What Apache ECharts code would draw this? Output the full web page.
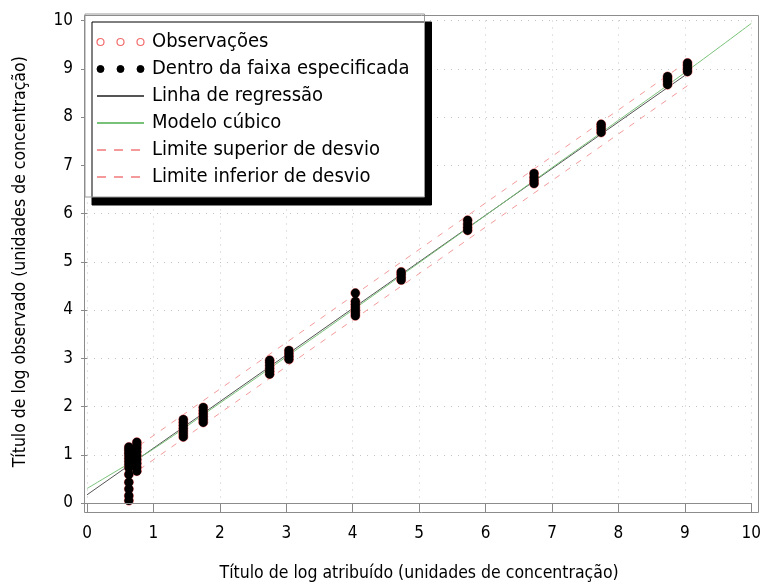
<!DOCTYPE html>
<html>
<head>
<meta charset="utf-8">
<script src="https://cdn.jsdelivr.net/npm/echarts@6/dist/echarts.min.js"></script>
<style>
  html, body { margin: 0; padding: 0; background: #fff; }
  #chart { width: 764px; height: 587px; }
</style>
</head>
<body>
<div id="chart"></div>
<script>
// Assigned log titer of each sample level
const assignedLevels = [0.63, 0.75, 1.45, 1.75, 2.75, 3.04, 4.04, 4.73, 5.73, 6.73, 7.74, 8.74, 9.04];

// Observed log titers at each assigned level (same order as assignedLevels)
const obsLevel01 = [0.05, 0.15, 0.29, 0.43, 0.59, 0.73, 0.80, 0.86, 0.92, 0.98, 1.03, 1.08, 1.12, 1.16];
const obsLevel02 = [0.66, 0.74, 0.82, 0.90, 0.98, 1.06, 1.14, 1.20, 1.26];
const obsLevel03 = [1.37, 1.43, 1.49, 1.55, 1.61, 1.67, 1.73];
const obsLevel04 = [1.67, 1.73, 1.79, 1.85, 1.91, 1.98];
const obsLevel05 = [2.67, 2.73, 2.79, 2.85, 2.91, 2.96];
const obsLevel06 = [2.98, 3.04, 3.10, 3.16];
const obsLevel07 = [3.88, 3.94, 4.00, 4.06, 4.12, 4.18, 4.35];
const obsLevel08 = [4.62, 4.68, 4.74, 4.79];
const obsLevel09 = [5.65, 5.71, 5.78, 5.86];
const obsLevel10 = [6.62, 6.68, 6.75, 6.83];
const obsLevel11 = [7.68, 7.74, 7.80, 7.85];
const obsLevel12 = [8.67, 8.73, 8.79, 8.84];
const obsLevel13 = [8.94, 9.00, 9.06, 9.12];
const observedByLevel = [obsLevel01, obsLevel02, obsLevel03, obsLevel04, obsLevel05, obsLevel06,
  obsLevel07, obsLevel08, obsLevel09, obsLevel10, obsLevel11, obsLevel12, obsLevel13];

// Regression line (end points)
const regressionX = [0, 9.04];
const regressionY = [0.17, 8.90];

// Cubic model curve
const cubicX = [0, 0.5, 1, 2, 3, 4, 5, 6, 7, 8, 9, 10];
const cubicY = [0.30, 0.71, 1.12, 2.07, 3.03, 4.00, 4.98, 5.96, 6.95, 7.93, 8.92, 9.94];

// Deviation limits
const limitX = [0.63, 9.04];
const upperLimitY = [1.04, 9.15];
const lowerLimitY = [0.54, 8.65];

// Axis ticks
const axisTicks = [0, 1, 2, 3, 4, 5, 6, 7, 8, 9, 10];

const FONT = '"DejaVu Sans Condensed", "Liberation Sans", sans-serif';

const zip = (xs, ys) => xs.map((x, i) => [x, ys[i]]);
const observations = [];
assignedLevels.forEach((x, i) => observedByLevel[i].forEach(y => observations.push([x, y])));

const names = {
  obs: 'Observações',
  inside: 'Dentro da faixa especificada',
  reg: 'Linha de regressão',
  cubic: 'Modelo cúbico',
  upper: 'Limite superior de desvio',
  lower: 'Limite inferior de desvio'
};

const RED = '#f26c6c';
const PINK = '#f49a9a';
const GREEN = '#79c279';
const GRAY = '#555555';

const threeCircles = 'path://M0,3.5a3.5,3.5 0 1,0 7,0a3.5,3.5 0 1,0 -7,0' +
  'M20,3.5a3.5,3.5 0 1,0 7,0a3.5,3.5 0 1,0 -7,0' +
  'M40,3.5a3.5,3.5 0 1,0 7,0a3.5,3.5 0 1,0 -7,0';

// line-only legend icons: hide the marker drawn in the middle of the line
const noMarker = { opacity: 0 };

const chart = echarts.init(document.getElementById('chart'), null, { renderer: 'canvas' });

const gridLine = { show: true, lineStyle: { color: '#c4c4c4', type: [1, 6], width: 1 } };

chart.setOption({
  animation: false,
  backgroundColor: '#fff',
  grid: { left: 87, right: 9, top: 20.5, bottom: 78, containLabel: false },
  xAxis: {
    type: 'value', min: axisTicks[0], max: axisTicks[axisTicks.length - 1], interval: 1,
    offset: 4,
    name: 'Título de log atribuído (unidades de concentração)',
    nameLocation: 'middle', nameGap: 57,
    nameTextStyle: { fontFamily: FONT, fontSize: 17.5, color: '#000' },
    axisLine: { show: false },
    axisTick: { show: true, length: 10, lineStyle: { color: '#888' } },
    axisLabel: { margin: 18, fontFamily: FONT, fontSize: 17, color: '#000' },
    splitLine: gridLine
  },
  yAxis: {
    type: 'value', min: axisTicks[0], max: axisTicks[axisTicks.length - 1], interval: 1,
    offset: 3,
    name: 'Título de log observado (unidades de concentração)',
    nameLocation: 'middle', nameGap: 55,
    nameTextStyle: { fontFamily: FONT, fontSize: 17.5, color: '#000' },
    axisLine: { show: false },
    axisTick: { show: true, length: 6, lineStyle: { color: '#888' } },
    axisLabel: { margin: 11, fontFamily: FONT, fontSize: 17, color: '#000' },
    splitLine: gridLine
  },
  legend: {
    orient: 'vertical', left: 85, top: 14,
    padding: [18, 15, 10, 11],
    itemWidth: 47, itemHeight: 8, itemGap: 7,
    backgroundColor: '#fff', borderColor: '#999', borderWidth: 1,
    shadowColor: '#000', shadowBlur: 0, shadowOffsetX: 7, shadowOffsetY: 8,
    textStyle: { fontFamily: FONT, fontSize: 20, color: '#000', lineHeight: 20, padding: [0, 0, 0, 3] },
    data: [
      { name: names.obs, icon: threeCircles, itemStyle: { color: 'transparent', borderColor: RED, borderWidth: 1.2, opacity: 1 } },
      { name: names.inside, icon: threeCircles, itemStyle: { color: '#000', borderColor: '#000', borderWidth: 1, opacity: 1 } },
      { name: names.reg, itemStyle: noMarker },
      { name: names.cubic, itemStyle: noMarker },
      { name: names.upper, itemStyle: noMarker, lineStyle: { type: [9, 8] } },
      { name: names.lower, itemStyle: noMarker, lineStyle: { type: [9, 8] } }
    ]
  },
  graphic: [{
    type: 'rect', silent: true, z: 100,
    shape: { x: 84.5, y: 15.5, width: 674, height: 497 },
    style: { fill: null, stroke: '#8c8c8c', lineWidth: 1 }
  }],
  series: [
    {
      name: names.reg, type: 'line', data: zip(regressionX, regressionY),
      symbol: 'none', lineStyle: { color: GRAY, width: 1 }, itemStyle: { color: GRAY }, z: 2,
      markLine: {
        silent: true, symbol: 'none', label: { show: false },
        lineStyle: { color: '#8c8c8c', type: 'solid', width: 1 },
        data: [{ yAxis: 0 }]
      }
    },
    {
      name: names.cubic, type: 'line', data: zip(cubicX, cubicY), smooth: true,
      symbol: 'none', lineStyle: { color: GREEN, width: 1 }, itemStyle: { color: GREEN }, z: 2
    },
    {
      name: names.upper, type: 'line', data: zip(limitX, upperLimitY),
      symbol: 'none', lineStyle: { color: PINK, width: 1, type: [6, 7] }, itemStyle: { color: PINK }, z: 2
    },
    {
      name: names.lower, type: 'line', data: zip(limitX, lowerLimitY),
      symbol: 'none', lineStyle: { color: PINK, width: 1, type: [6, 7] }, itemStyle: { color: PINK }, z: 2
    },
    {
      name: names.obs, type: 'scatter', data: observations, symbol: 'circle', symbolSize: 9,
      itemStyle: { color: 'transparent', borderColor: RED, borderWidth: 1, opacity: 1 }, z: 3
    },
    {
      name: names.inside, type: 'scatter', data: observations, symbol: 'circle', symbolSize: 9,
      itemStyle: { color: '#000', opacity: 1 }, z: 4
    }
  ]
});
</script>
</body>
</html>
